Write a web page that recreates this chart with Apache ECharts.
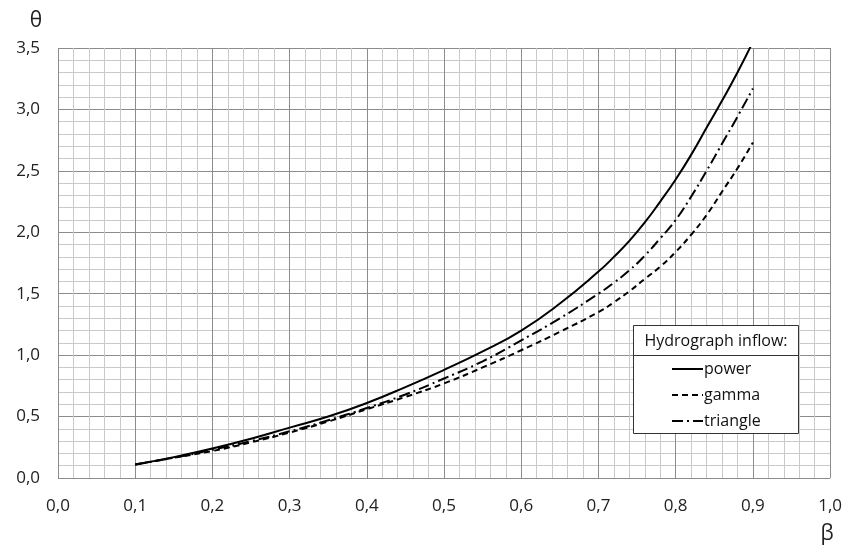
<!DOCTYPE html>
<html>
<head>
<meta charset="utf-8">
<script src="https://cdn.jsdelivr.net/npm/echarts@6/dist/echarts.min.js"></script>
<style>
  html, body { margin: 0; padding: 0; background: #fff; }
  #main { width: 845px; height: 550px; }
</style>
</head>
<body>
<div id="main"></div>
<script>
// β values (x)
const beta = [0.1, 0.15, 0.2, 0.25, 0.3, 0.35, 0.4, 0.45, 0.5, 0.55, 0.6, 0.65,
  0.7, 0.72, 0.74, 0.76, 0.78, 0.8, 0.82, 0.84, 0.86, 0.88, 0.9];
// θ for each hydrograph shape
const power = [0.11, 0.17, 0.24, 0.32, 0.41, 0.50, 0.61, 0.74, 0.88, 1.03, 1.20, 1.42,
  1.68, 1.80, 1.93, 2.08, 2.25, 2.43, 2.63, 2.85, 3.07, 3.30, 3.55];
const gamma = [0.11, 0.165, 0.22, 0.29, 0.37, 0.46, 0.56, 0.66, 0.77, 0.90, 1.04, 1.19,
  1.35, 1.43, 1.52, 1.62, 1.72, 1.84, 1.98, 2.14, 2.33, 2.52, 2.73];
const triangle = [0.11, 0.165, 0.23, 0.30, 0.38, 0.47, 0.57, 0.68, 0.81, 0.95, 1.12, 1.30,
  1.50, 1.59, 1.69, 1.81, 1.95, 2.10, 2.29, 2.50, 2.72, 2.94, 3.17];

const FONT = '"Open Sans", "Noto Sans", sans-serif';
const comma = (v) => v.toFixed(1).replace('.', ',');
const pairs = (ys) => beta.map((b, i) => [b, ys[i]]);

const chart = echarts.init(document.getElementById('main'));

const lineSeries = (name, ys, type) => ({
  name: name,
  type: 'line',
  smooth: true,
  showSymbol: false,
  symbol: 'none',
  clip: true,
  lineStyle: { color: '#000', width: 2, type: type },
  itemStyle: { color: '#000' },
  data: pairs(ys)
});

const option = {
  animation: false,
  grid: { left: 58, right: 14, top: 48, bottom: 72, containLabel: false },
  xAxis: {
    type: 'value',
    min: 0,
    max: 1,
    interval: 0.1,
    name: 'β',
    nameLocation: 'end',
    nameGap: 0,
    nameTextStyle: { fontFamily: FONT, fontSize: 21, color: '#222', align: 'center', verticalAlign: 'top', padding: [46, 6, 0, 0] },
    axisLine: { show: false },
    axisTick: { show: false },
    axisLabel: { fontFamily: FONT, fontSize: 17, color: '#222', margin: 20, formatter: comma },
    splitLine: { show: true, lineStyle: { color: '#8c8c8c', width: 1 } },
    minorTick: { show: false, splitNumber: 5 },
    minorSplitLine: { show: true, lineStyle: { color: '#c9c9c9', width: 1 } }
  },
  yAxis: {
    type: 'value',
    min: 0,
    max: 3.5,
    interval: 0.5,
    name: 'θ',
    nameLocation: 'end',
    nameGap: 16,
    nameTextStyle: { fontFamily: FONT, fontSize: 21, color: '#222', align: 'center', padding: [0, 0, 0, -44] },
    axisLine: { show: false },
    axisTick: { show: false },
    axisLabel: { fontFamily: FONT, fontSize: 17, color: '#222', margin: 18, formatter: comma },
    splitLine: { show: true, lineStyle: { color: '#8c8c8c', width: 1 } },
    minorTick: { show: false, splitNumber: 5 },
    minorSplitLine: { show: true, lineStyle: { color: '#c9c9c9', width: 1 } }
  },
  legend: {
    orient: 'vertical',
    left: 666,
    top: 356,
    z: 10,
    itemWidth: 31,
    itemHeight: 14,
    itemGap: 10,
    selectedMode: false,
    itemStyle: { color: 'transparent', borderWidth: 0, opacity: 0 },
    textStyle: { fontFamily: FONT, fontSize: 16, color: '#111', padding: [0, 0, 0, -4] },
    data: ['power', 'gamma', 'triangle']
  },
  graphic: [
    {
      type: 'rect',
      z: 8,
      shape: { x: 633.5, y: 325.5, width: 165, height: 108 },
      style: { fill: '#fff', stroke: '#333', lineWidth: 1 }
    },
    {
      type: 'line',
      z: 9,
      shape: { x1: 633.5, y1: 355.5, x2: 798.5, y2: 355.5 },
      style: { stroke: '#333', lineWidth: 1 }
    },
    {
      type: 'text',
      z: 9,
      x: 716,
      y: 341,
      style: { text: 'Hydrograph inflow:', fontFamily: FONT, fontSize: 16, fill: '#111', align: 'center', verticalAlign: 'middle' }
    }
  ],
  series: [
    lineSeries('power', power, 'solid'),
    lineSeries('gamma', gamma, [6, 4]),
    lineSeries('triangle', triangle, [11, 4, 2, 4])
  ]
};

chart.setOption(option);
</script>
</body>
</html>
